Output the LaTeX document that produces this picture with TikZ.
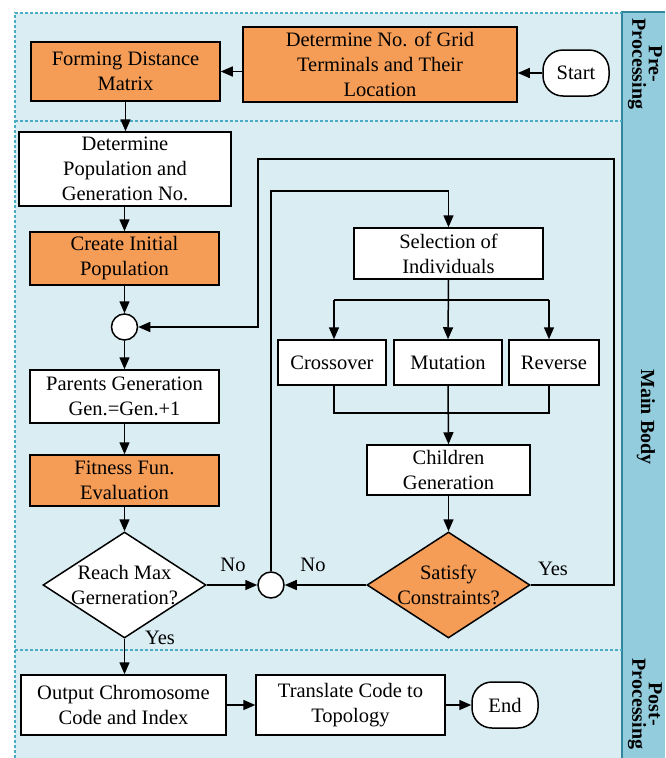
\documentclass[tikz,border=0pt]{standalone}
\usepackage{fontspec}
\setmainfont{Liberation Serif}
\usetikzlibrary{shapes.geometric,arrows.meta,calc}
\definecolor{bglight}{HTML}{DAEDF3}
\definecolor{colblue}{HTML}{93CDDD}
\definecolor{coldark}{HTML}{31859C}
\definecolor{dashcol}{HTML}{4BACC6}
\definecolor{orng}{HTML}{F59D57}
\newcommand{\fsz}{\fontsize{20.5}{25}\selectfont}
\newcommand{\fst}{\fontsize{20}{16.5}\selectfont}
\tikzset{
  box/.style={draw, line width=1.5pt, align=center, font=\fsz, inner sep=0pt, fill=white},
  obox/.style={box, fill=orng},
  term/.style={box, rounded corners=20pt, minimum width=66pt, minimum height=46pt},
  junc/.style={draw, line width=1.5pt, circle, fill=white, minimum size=26pt, inner sep=0pt},
  dia/.style={draw, line width=1.5pt, diamond, aspect=1, inner sep=0pt, align=center, font=\fsz, minimum width=163pt, minimum height=106pt},
  conn/.style={line width=1.5pt},
  arr/.style={conn, -{Triangle[length=12pt,width=10pt]}},
  lbl/.style={font=\fsz, inner sep=0pt},
  sect/.style={font=\fst\bfseries, align=center, rotate=-90, inner sep=0pt},
  sep/.style={dashcol, line width=1.4pt, dash pattern=on 3pt off 2pt}
}
\begin{document}
\begin{tikzpicture}[x=1pt, y=-1pt]
\useasboundingbox (0,0) rectangle (665,758);
% backgrounds
\fill[bglight] (15,13) rectangle (622,758);
\fill[colblue] (622,12) rectangle (665,758);
\draw[coldark, line width=1.5pt] (622,758) -- (622,12) -- (665,12);
\draw[sep] (15,758) -- (15,13) -- (622,13);
\draw[sep] (15,121) -- (622,121);
\draw[sep] (15,650) -- (622,650);
% section titles
\node[sect] (tpre) at (645,64) {Pre-\\Processing};
\node[sect] (tmain) at (646,417) {Main Body};
\node[sect] (tpost) at (645,704) {Post-\\Processing};
% nodes
\node[obox, minimum width=189pt, minimum height=59pt] (fdm) at (125.5,71.5) {Forming Distance\\Matrix};
\node[obox, minimum width=274pt, minimum height=75pt] (dgt) at (380,64.5) {Determine No. of Grid\\Terminals and Their\\Location};
\node[term] (start) at (576,73) {Start};
\node[box, minimum width=212pt, minimum height=74pt] (dpg) at (125,169) {Determine\\Population and\\Generation No.};
\node[obox, minimum width=189pt, minimum height=53pt] (cip) at (124.5,258.5) {Create Initial\\Population};
\node[junc] (c1) at (124.5,327) {};
\node[box, minimum width=189pt, minimum height=53pt] (pg) at (124.5,396.5) {Parents Generation\\Gen.=Gen.+1};
\node[obox, minimum width=189pt, minimum height=51pt] (ffe) at (124.5,480.5) {Fitness Fun.\\Evaluation};
\node[dia, fill=white] (rmg) at (124.5,585) {\makebox[0pt]{Reach Max}\\\makebox[0pt]{Gerneration?}};
\node[junc] (c2) at (271,585) {};
\node[box, minimum width=189pt, minimum height=51pt] (sel) at (448.5,253.5) {Selection of\\Individuals};
\node[box, minimum width=108pt, minimum height=45pt] (co) at (332,362.5) {Crossover};
\node[box, minimum width=108pt, minimum height=45pt] (mu) at (448,362.5) {Mutation};
\node[box, minimum width=90pt, minimum height=45pt] (rev) at (554,362.5) {Reverse};
\node[box, minimum width=163pt, minimum height=50pt] (ch) at (448.5,470) {Children\\Generation};
\node[dia, fill=orng] (sc) at (448.5,585) {\makebox[0pt]{Satisfy}\\\makebox[0pt]{Constraints?}};
\node[box, minimum width=205pt, minimum height=60pt] (oc) at (123.5,705) {Output Chromosome\\Code and Index};
\node[box, minimum width=189pt, minimum height=60pt] (tc) at (350.5,705) {Translate Code to\\Topology};
\node[term] (end) at (505,705) {End};
% coordinates
\coordinate (k1) at (448.5,191);
\coordinate (k2) at (614,159);
\coordinate (k3) at (258,159);
\coordinate (bl) at (334,300);
\coordinate (br) at (549,300);
\coordinate (ml) at (334,413);
\coordinate (mr) at (549,413);
% connectors
\draw[arr] (start.west) -- (start.west -| dgt.east);
\draw[arr] (dgt.west |- fdm.east) -- (fdm.east);
\draw[arr] (fdm.south) -- (dpg.north -| fdm.south);
\draw[arr] (dpg.south -| cip.north) -- (cip.north);
\draw[arr] (cip.south) -- (c1.north);
\draw[arr] (c1.south) -- (pg.north);
\draw[arr] (pg.south) -- (ffe.north);
\draw[arr] (ffe.south) -- (rmg.north);
\draw[arr] (rmg.east) -- (c2.west);
\draw[arr] (sc.west) -- (c2.east);
\draw[arr] (c2.north) |- (k1) -- (sel.north);
\draw[arr] (sc.east) -| (k2) -- (k3) |- (c1.east);
\draw[conn] (bl) -- (br);
\draw[arr] (bl) -- (bl |- co.north);
\draw[arr] (sel.south) -- (mu.north);
\draw[arr] (br) -- (br |- rev.north);
\draw[conn] (ml |- co.south) -- (ml) -- (mr) -- (mr |- rev.south);
\draw[arr] (mu.south) -- (ch.north);
\draw[arr] (ch.south) -- (sc.north);
\draw[arr] (rmg.south) -- (oc.north -| rmg.south);
\draw[arr] (oc.east) -- (tc.west);
\draw[arr] (tc.east) -- (end.west);
% labels
\node[lbl] (lno1) at (233,565) {No};
\node[lbl] (lno2) at (313,565) {No};
\node[lbl] (lyes1) at (553,569) {Yes};
\node[lbl] (lyes2) at (160,638) {Yes};
\end{tikzpicture}
\end{document}
